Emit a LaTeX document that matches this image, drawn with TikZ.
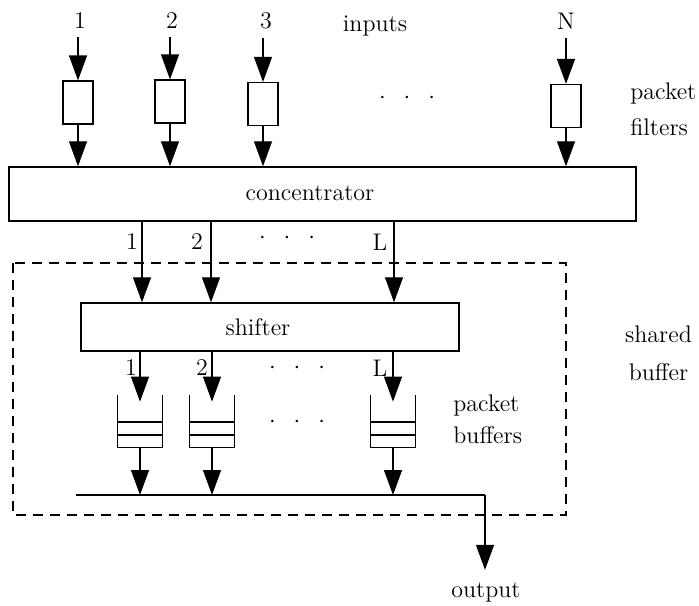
\documentclass[tikz,border=0pt]{standalone}
\usetikzlibrary{arrows.meta,calc}
\begin{document}
\begin{tikzpicture}[x=0.5pt,y=-0.5pt,
  font=\fontsize{12}{14}\selectfont,
  every node/.style={inner sep=0pt},
  lab/.style={anchor=base},
  labw/.style={anchor=base west},
  filt/.style={draw,line width=0.6pt,minimum width=15pt,minimum height=21.5pt},
  bigbox/.style={draw,line width=0.7pt},
  bufnode/.style={minimum width=22pt,minimum height=26pt},
  arr/.style={-{Triangle[width=9pt,length=12.5pt]},line width=0.6pt},
  wire/.style={line width=0.7pt},
  dashbox/.style={line width=0.6pt,dash pattern=on 5pt off 3.5pt},
  dotsrow/.style={anchor=center}]
\useasboundingbox (0,0) rectangle (699,605);

% input labels
\node[lab] (l1) at (80,28) {1};
\node[lab] (l2) at (172,28) {2};
\node[lab] (l3) at (266,28) {3};
\node[lab] (lN) at (566,29) {N};
\node[lab] (inputs) at (375,31) {inputs};

% packet filters
\node[filt] (f1) at (78,102.5) {};
\node[filt] (f2) at (170,101.5) {};
\node[filt] (f3) at (263,104) {};
\node[filt] (fN) at (566,106) {};
\node[dotsrow] (fdots) at (407,98) {${\cdot}\hspace{9pt}{\cdot}\hspace{9pt}{\cdot}$};
\node[labw] (pf1) at (630,99) {packet};
\node[labw] (pf2) at (630,135) {filters};

% concentrator
\node[bigbox,minimum width=313.5pt,minimum height=27pt] (conc) at (322.5,194) {};
\node (conclab) at (310,193) {concentrator};

\foreach \i/\f in {l1/f1,l2/f2,l3/f3,lN/fN}{
  \draw[arr,shorten <=4.5pt] (\f |- \i.south) -- (\f);
  \draw[arr] (\f) -- (\f |- conc.north);
}

% shared buffer region
\draw[dashbox] (13,263) rectangle (566,515);
\node[lab] (sb1) at (658.5,342) {shared};
\node[lab] (sb2) at (658.5,380) {buffer};

% shifter
\node[bigbox,minimum width=189pt,minimum height=24pt] (shift) at (270,327) {};
\node (shiftlab) at (258,327) {shifter};

% concentrator outputs
\coordinate (c1) at (142,240);
\coordinate (c2) at (211,240);
\coordinate (cL) at (394,240);
\foreach \c in {c1,c2,cL}{
  \draw[arr] (conc.south -| \c) -- (shift.north -| \c);
}
\node[lab] (o1) at (132,249) {1};
\node[lab] (o2) at (197,249) {2};
\node[lab] (oL) at (380,250) {L};
\node[dotsrow] (odots) at (287,238) {${\cdot}\hspace{9pt}{\cdot}\hspace{9pt}{\cdot}$};

% packet buffers
\node[bufnode] (b1) at (140,421) {};
\node[bufnode] (b2) at (212,421) {};
\node[bufnode] (b3) at (393,421) {};
\foreach \b in {b1,b2,b3}{
  \draw[line width=0.6pt] (\b.north west) -- (\b.south west) -- (\b.south east) -- (\b.north east);
  \draw[line width=0.6pt] ($(\b.west)+(0,1)$) -- ($(\b.east)+(0,1)$);
  \draw[line width=0.6pt] ($(\b.west)+(0,14)$) -- ($(\b.east)+(0,14)$);
  \draw[arr] (shift.south -| \b) -- ($(\b.north)+(0,7)$);
}
\node[lab] (s1) at (131,375) {1};
\node[lab] (s2) at (202,375) {2};
\node[lab] (sL) at (380,376) {L};
\node[dotsrow] (sdots) at (297,368) {${\cdot}\hspace{9pt}{\cdot}\hspace{9pt}{\cdot}$};
\node[dotsrow] (bdots) at (297,422) {${\cdot}\hspace{9pt}{\cdot}\hspace{9pt}{\cdot}$};
\node[labw] (pb1) at (453,411) {packet};
\node[labw] (pb2) at (453,443) {buffers};

% output bus
\coordinate (busL) at (76,495);
\coordinate (busR) at (485,495);
\foreach \b in {b1,b2,b3}{
  \draw[arr] (\b.south) -- (\b.south |- busL);
}
\draw[wire] (busL) -- (busR);
\node[lab] (out) at (486,597) {output};
\draw[arr,shorten >=6pt] (busR) -- (busR |- out.north);
\end{tikzpicture}
\end{document}
